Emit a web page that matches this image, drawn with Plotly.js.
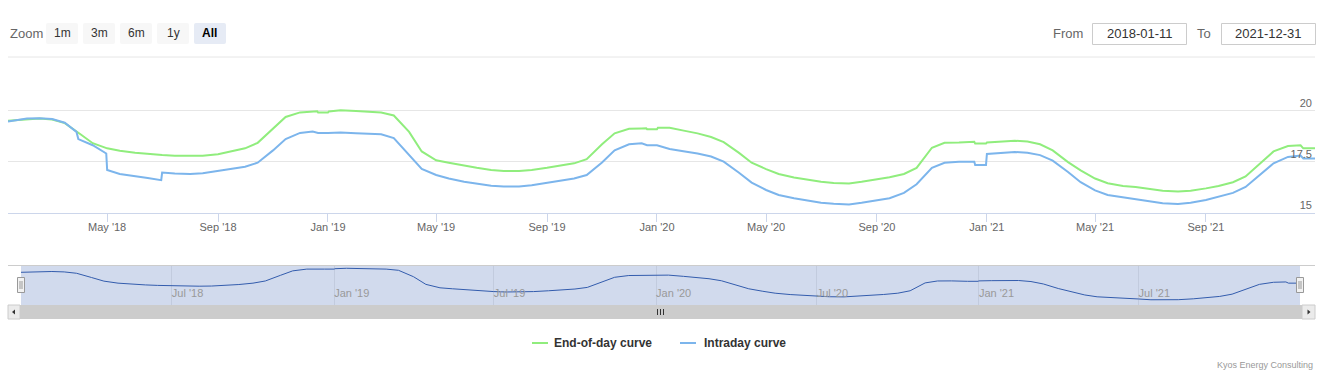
<!DOCTYPE html>
<html><head><meta charset="utf-8">
<script src="https://cdn.plot.ly/plotly-3.0.1.min.js"></script>
<style>html,body{margin:0;padding:0;background:#fff}#chart{width:1325px;height:375px}</style>
</head><body><div id="chart"></div>
<script>
// ---------- data ----------
const eodDates = ['2018-01-11','2018-02-01','2018-02-15','2018-03-01','2018-03-15','2018-04-01','2018-04-15','2018-05-01','2018-05-15','2018-06-01','2018-06-15','2018-07-01','2018-07-15','2018-08-01','2018-08-15','2018-09-01','2018-09-15','2018-10-01','2018-10-15','2018-11-01','2018-11-15','2018-12-01','2018-12-15','2018-12-20','2018-12-21','2019-01-01','2019-01-02','2019-01-15','2019-02-01','2019-02-15','2019-03-01','2019-03-15','2019-04-01','2019-04-15','2019-05-01','2019-05-15','2019-06-01','2019-06-15','2019-07-01','2019-07-15','2019-08-01','2019-08-15','2019-09-01','2019-09-15','2019-10-01','2019-10-15','2019-11-01','2019-11-15','2019-12-01','2019-12-15','2019-12-20','2019-12-21','2020-01-01','2020-01-02','2020-01-15','2020-02-01','2020-02-15','2020-03-01','2020-03-15','2020-04-01','2020-04-15','2020-05-01','2020-05-15','2020-06-01','2020-06-15','2020-07-01','2020-07-15','2020-08-01','2020-08-15','2020-09-01','2020-09-15','2020-10-01','2020-10-15','2020-11-01','2020-11-15','2020-12-01','2020-12-18','2020-12-19','2020-12-31','2021-01-01','2021-01-15','2021-02-01','2021-02-15','2021-03-01','2021-03-15','2021-04-01','2021-04-15','2021-05-01','2021-05-15','2021-06-01','2021-06-15','2021-07-01','2021-07-15','2021-08-01','2021-08-15','2021-09-01','2021-09-15','2021-10-01','2021-10-15','2021-11-01','2021-11-15','2021-12-01','2021-12-15','2021-12-18','2021-12-31'];
const eodValues = [19.50,19.58,19.60,19.55,19.38,18.85,18.40,18.15,18.03,17.93,17.87,17.82,17.79,17.77,17.79,17.86,17.98,18.15,18.42,19.12,19.68,19.90,19.95,19.96,19.90,19.90,19.95,20.00,19.97,19.93,19.90,19.75,18.95,18.00,17.57,17.45,17.30,17.20,17.10,17.05,17.05,17.10,17.20,17.30,17.42,17.62,18.35,18.88,19.10,19.12,19.13,19.08,19.08,19.15,19.15,19.00,18.88,18.70,18.45,17.93,17.45,17.14,16.90,16.73,16.63,16.52,16.46,16.44,16.52,16.64,16.74,16.90,17.20,18.18,18.42,18.43,18.47,18.38,18.38,18.43,18.46,18.52,18.48,18.35,18.05,17.48,17.08,16.68,16.45,16.32,16.27,16.18,16.08,16.05,16.09,16.20,16.32,16.50,16.78,17.45,18.00,18.26,18.30,18.15,18.15];

const intraDates = ['2018-01-11','2018-02-01','2018-02-15','2018-03-01','2018-03-15','2018-03-28','2018-03-30','2018-04-15','2018-04-30','2018-05-01','2018-05-15','2018-06-01','2018-06-15','2018-06-30','2018-07-01','2018-07-15','2018-08-01','2018-08-15','2018-09-01','2018-09-15','2018-10-01','2018-10-15','2018-11-01','2018-11-15','2018-12-01','2018-12-15','2018-12-21','2019-01-01','2019-01-15','2019-02-01','2019-02-15','2019-03-01','2019-03-15','2019-04-01','2019-04-15','2019-05-01','2019-05-15','2019-06-01','2019-06-15','2019-07-01','2019-07-15','2019-08-01','2019-08-15','2019-09-01','2019-09-15','2019-10-01','2019-10-15','2019-11-01','2019-11-15','2019-12-01','2019-12-15','2019-12-21','2020-01-01','2020-01-15','2020-02-01','2020-02-15','2020-03-01','2020-03-15','2020-04-01','2020-04-15','2020-05-01','2020-05-15','2020-06-01','2020-06-15','2020-07-01','2020-07-15','2020-08-01','2020-08-15','2020-09-01','2020-09-15','2020-10-01','2020-10-15','2020-11-01','2020-11-15','2020-12-01','2020-12-18','2020-12-19','2020-12-31','2021-01-01','2021-01-15','2021-02-01','2021-02-15','2021-03-01','2021-03-15','2021-04-01','2021-04-15','2021-05-01','2021-05-15','2021-06-01','2021-06-15','2021-07-01','2021-07-15','2021-08-01','2021-08-15','2021-09-01','2021-09-15','2021-10-01','2021-10-15','2021-11-01','2021-11-15','2021-12-01','2021-12-15','2021-12-18','2021-12-31'];
const intraValues = [19.46,19.60,19.62,19.58,19.40,18.95,18.60,18.30,17.90,17.10,16.90,16.77,16.70,16.60,16.97,16.92,16.90,16.94,17.05,17.15,17.25,17.45,18.05,18.60,18.90,18.97,18.90,18.90,18.92,18.89,18.87,18.84,18.65,17.80,17.15,16.85,16.68,16.52,16.42,16.33,16.29,16.29,16.35,16.48,16.58,16.68,16.85,17.46,18.05,18.35,18.40,18.30,18.30,18.12,18.00,17.90,17.75,17.50,16.96,16.48,16.12,15.88,15.72,15.62,15.50,15.45,15.42,15.50,15.63,15.72,15.98,16.40,17.20,17.45,17.50,17.50,17.34,17.34,17.88,17.92,17.97,17.93,17.82,17.55,17.00,16.50,16.10,15.88,15.76,15.67,15.56,15.48,15.44,15.50,15.63,15.78,15.98,16.27,16.90,17.42,17.73,17.80,17.66,17.66];

const seriesNames = ['End-of-day curve','Intraday curve'];
const mainTickVals = ['2018-05-01','2018-09-01','2019-01-01','2019-05-01','2019-09-01','2020-01-01','2020-05-01','2020-09-01','2021-01-01','2021-05-01','2021-09-01'];
const mainTickText = ["May '18","Sep '18","Jan '19","May '19","Sep '19","Jan '20","May '20","Sep '20","Jan '21","May '21","Sep '21"];
const navTickVals = ['2018-07-01','2019-01-01','2019-07-01','2020-01-01','2020-07-01','2021-01-01','2021-07-01'];
const navTickText = ["Jul '18","Jan '19","Jul '19","Jan '20","Jul '20","Jan '21","Jul '21"];
const yTickVals = [15, 17.5, 20];
const yTickText = ['15', '17.5', '20'];
const zoomButtons = ['1m','3m','6m','1y','All'];
const fromDate = '2018-01-11';
const toDate = '2021-12-31';

// ---------- geometry helpers ----------
const W = 1325, H = 375, L = 8, R = 10, T = 57, B = 56;
const PW = W - L - R, PH = H - T - B;
const px = x => (x - L) / PW;
const py = y => (H - B - y) / PH;
const P = (x, y) => px(x).toFixed(6) + ',' + py(y).toFixed(6);
function rrect(x0, y0, x1, y1, r) {
  return 'M' + P(x0 + r, y0) + ' L' + P(x1 - r, y0) + ' Q' + P(x1, y0) + ' ' + P(x1, y0 + r) +
    ' L' + P(x1, y1 - r) + ' Q' + P(x1, y1) + ' ' + P(x1 - r, y1) +
    ' L' + P(x0 + r, y1) + ' Q' + P(x0, y1) + ' ' + P(x0, y1 - r) +
    ' L' + P(x0, y0 + r) + ' Q' + P(x0, y0) + ' ' + P(x0 + r, y0) + ' Z';
}
function rect(x0, y0, x1, y1, fill, line, lw, layer) {
  return {type: 'rect', xref: 'paper', yref: 'paper', x0: px(x0), x1: px(x1), y0: py(y1), y1: py(y0),
    fillcolor: fill, line: {color: line || fill, width: lw === undefined ? 1 : lw}, layer: layer || 'above'};
}
function hline(x0, x1, y, color, w) {
  return {type: 'line', xref: 'paper', yref: 'paper', x0: px(x0), x1: px(x1), y0: py(y), y1: py(y), line: {color: color, width: w || 1}};
}
function vline(x, y0, y1, color, w) {
  return {type: 'line', xref: 'paper', yref: 'paper', x0: px(x), x1: px(x), y0: py(y0), y1: py(y1), line: {color: color, width: w || 1}};
}
function txt(x, y, text, opts) {
  opts = opts || {};
  return {xref: 'paper', yref: 'paper', x: px(x), y: py(y), text: text, showarrow: false,
    xanchor: opts.xanchor || 'left', yanchor: 'middle',
    font: {family: 'Liberation Sans, Arial, sans-serif', size: opts.size || 12, color: opts.color || '#333', weight: opts.weight || 'normal'}};
}

const FONT = 'Liberation Sans, Arial, sans-serif';
const GREEN = '#90ed7d', BLUE = '#7cb5ec';

const traces = [
  {x: eodDates, y: eodValues, name: seriesNames[0], type: 'scatter', mode: 'lines',
   line: {color: GREEN, width: 2}, xaxis: 'x', yaxis: 'y', hoverinfo: 'skip', showlegend: false},
  {x: intraDates, y: intraValues, name: seriesNames[1], type: 'scatter', mode: 'lines',
   line: {color: BLUE, width: 2}, xaxis: 'x', yaxis: 'y', hoverinfo: 'skip', showlegend: false},
  {x: eodDates, y: eodValues, name: 'navigator', type: 'scatter', mode: 'lines',
   line: {color: '#335cad', width: 1}, xaxis: 'x2', yaxis: 'y2', hoverinfo: 'skip', showlegend: false}
];

const shapes = [];
const annotations = [];

// top plot border line
shapes.push(hline(8, 1315, 57, '#e6e6e6', 1));

// range selector buttons
const btnX = [46, 83, 120, 157, 194];
zoomButtons.forEach((b, i) => {
  const sel = b === 'All';
  shapes.push({type: 'path', xref: 'paper', yref: 'paper', path: rrect(btnX[i], 23, btnX[i] + 32, 44, 2),
    fillcolor: sel ? '#e6ebf5' : '#f7f7f7', line: {width: 0}});
  annotations.push(txt(btnX[i] + 16, 33.5, b, {xanchor: 'center', size: 12, color: sel ? '#000' : '#333', weight: sel ? 'bold' : 'normal'}));
});
annotations.push(txt(8, 33.5, 'Zoom', {size: 13, color: '#666'}));

// date inputs
annotations.push(txt(1085, 33.5, 'From', {xanchor: 'right', size: 13, color: '#666'}));
shapes.push(rect(1092.5, 23.5, 1186.5, 44.5, '#ffffff', '#cccccc', 1));
annotations.push(txt(1139.5, 33.5, fromDate, {xanchor: 'center', size: 13, color: '#333'}));
annotations.push(txt(1213, 33.5, 'To', {xanchor: 'right', size: 13, color: '#666'}));
shapes.push(rect(1221.5, 23.5, 1315.5, 44.5, '#ffffff', '#cccccc', 1));
annotations.push(txt(1268.5, 33.5, toDate, {xanchor: 'center', size: 13, color: '#333'}));

// navigator mask + outline
shapes.push(rect(21, 265, 1300, 305, 'rgba(102,133,194,0.3)', 'rgba(0,0,0,0)', 0, 'below'));
shapes.push(hline(8, 1315, 265.5, '#cccccc', 1));
// handles
[21, 1300].forEach(hx => {
  shapes.push(rect(hx - 3.5, 277.5, hx + 3.5, 292.5, '#f2f2f2', '#999999', 1));
  shapes.push(vline(hx - 1, 281, 289, '#999999', 1));
  shapes.push(vline(hx + 1, 281, 289, '#999999', 1));
});

// scrollbar
shapes.push(rect(8, 305, 1315, 319, '#f2f2f2', '#f2f2f2', 0));
shapes.push(rect(20, 305, 1302, 319, '#cccccc', '#cccccc', 0));
shapes.push(rect(8, 305, 20, 319, '#ebebeb', '#cccccc', 1));
shapes.push(rect(1302, 305, 1315, 319, '#ebebeb', '#cccccc', 1));
shapes.push({type: 'path', xref: 'paper', yref: 'paper', path: 'M' + P(12, 312) + ' L' + P(15, 309.5) + ' L' + P(15, 314.5) + ' Z', fillcolor: '#333', line: {width: 0}});
shapes.push({type: 'path', xref: 'paper', yref: 'paper', path: 'M' + P(1310.5, 312) + ' L' + P(1307.5, 309.5) + ' L' + P(1307.5, 314.5) + ' Z', fillcolor: '#333', line: {width: 0}});
[657.5, 660.5, 663.5].forEach(gx => shapes.push(vline(gx, 309, 315, '#333333', 1)));

// legend (drawn manually)
shapes.push(hline(532, 548, 343, GREEN, 2));
annotations.push(txt(552, 343, seriesNames[0], {size: 12, color: '#333', weight: 'bold'}));
shapes.push(hline(680, 696, 343, BLUE, 2));
annotations.push(txt(702, 343, seriesNames[1], {size: 12, color: '#333', weight: 'bold'}));

// credits
annotations.push(txt(1315, 365, 'Kyos Energy Consulting', {xanchor: 'right', size: 9, color: '#999'}));

const layout = {
  width: W, height: H,
  margin: {l: L, r: R, t: T, b: B, pad: 0},
  paper_bgcolor: '#ffffff', plot_bgcolor: 'rgba(0,0,0,0)',
  showlegend: false,
  font: {family: FONT, size: 11, color: '#666'},
  xaxis: {type: 'date', domain: [0, 1], anchor: 'y', range: ['2018-01-11', '2021-12-31'],
    tickmode: 'array', tickvals: mainTickVals, ticktext: mainTickText,
    ticks: 'outside', ticklen: 8, tickcolor: '#ccd6eb', tickwidth: 1, ticklabelstandoff: -4,
    showline: true, linecolor: '#ccd6eb', linewidth: 1, showgrid: false, zeroline: false,
    tickfont: {family: FONT, size: 11, color: '#666'}, fixedrange: true},
  yaxis: {domain: [py(213), 1], anchor: 'x', range: [15, 22.6], side: 'right',
    tickmode: 'array', tickvals: yTickVals, ticktext: yTickText,
    ticklabelposition: 'inside top', ticks: '', showline: false, zeroline: false,
    showgrid: true, gridcolor: '#e6e6e6', gridwidth: 1,
    tickfont: {family: FONT, size: 11, color: '#666'}, fixedrange: true},
  xaxis2: {type: 'date', domain: [px(21), px(1300)], anchor: 'y2', range: ['2018-01-11', '2021-12-31'],
    tickmode: 'array', tickvals: navTickVals, ticktext: navTickText,
    ticklabelposition: 'inside right', ticks: '', showline: false, zeroline: false,
    showgrid: true, gridcolor: '#c2cbde', gridwidth: 1,
    tickfont: {family: FONT, size: 11, color: '#999'}, fixedrange: true},
  yaxis2: {domain: [py(305), py(265)], anchor: 'x2', range: [15.43, 20.41],
    showgrid: false, showticklabels: false, ticks: '', zeroline: false, showline: false, fixedrange: true},
  shapes: shapes,
  annotations: annotations
};

Plotly.newPlot('chart', traces, layout, {displayModeBar: false, staticPlot: true});
</script>
</body></html>
